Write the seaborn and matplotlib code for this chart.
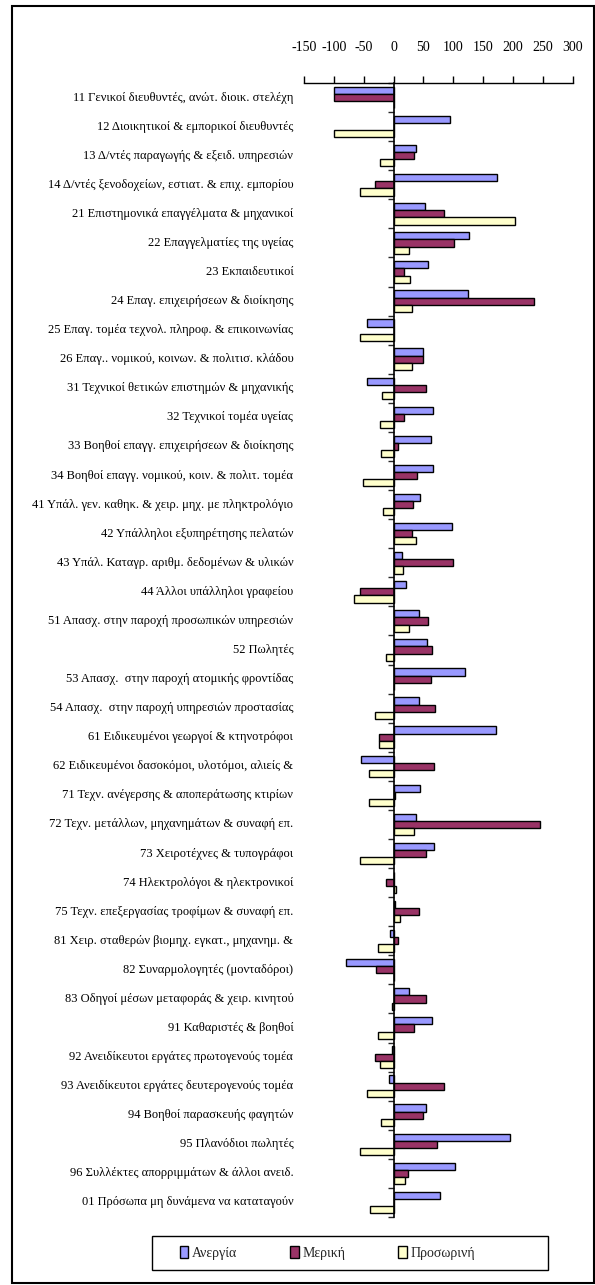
import numpy as np
import pandas as pd
import matplotlib
matplotlib.use("Agg")
import matplotlib.pyplot as plt
import matplotlib.transforms as mtransforms
from matplotlib.patches import Rectangle
import seaborn as sns

# Occupation groups (top to bottom)
categories = [
    "11 Γενικοί διευθυντές, ανώτ. διοικ. στελέχη",
    "12 Διοικητικοί & εμπορικοί διευθυντές",
    "13 Δ/ντές παραγωγής & εξειδ. υπηρεσιών",
    "14 Δ/ντές ξενοδοχείων, εστιατ. & επιχ. εμπορίου",
    "21 Επιστημονικά επαγγέλματα & μηχανικοί",
    "22 Επαγγελματίες της υγείας",
    "23 Εκπαιδευτικοί",
    "24 Επαγ. επιχειρήσεων & διοίκησης",
    "25 Επαγ. τομέα τεχνολ. πληροφ. & επικοινωνίας",
    "26 Επαγ.. νομικού, κοινων. & πολιτισ. κλάδου",
    "31 Τεχνικοί θετικών επιστημών & μηχανικής",
    "32 Τεχνικοί τομέα υγείας",
    "33 Βοηθοί επαγγ. επιχειρήσεων & διοίκησης",
    "34 Βοηθοί επαγγ. νομικού, κοιν. & πολιτ. τομέα",
    "41 Υπάλ. γεν. καθηκ. & χειρ. μηχ. με πληκτρολόγιο",
    "42 Υπάλληλοι εξυπηρέτησης πελατών",
    "43 Υπάλ. Καταγρ. αριθμ. δεδομένων & υλικών",
    "44 Άλλοι υπάλληλοι γραφείου",
    "51 Απασχ. στην παροχή προσωπικών υπηρεσιών",
    "52 Πωλητές",
    "53 Απασχ.  στην παροχή ατομικής φροντίδας",
    "54 Απασχ.  στην παροχή υπηρεσιών προστασίας",
    "61 Ειδικευμένοι γεωργοί & κτηνοτρόφοι",
    "62 Ειδικευμένοι δασοκόμοι, υλοτόμοι, αλιείς &",
    "71 Τεχν. ανέγερσης & αποπεράτωσης κτιρίων",
    "72 Τεχν. μετάλλων, μηχανημάτων & συναφή επ.",
    "73 Χειροτέχνες & τυπογράφοι",
    "74 Ηλεκτρολόγοι & ηλεκτρονικοί",
    "75 Τεχν. επεξεργασίας τροφίμων & συναφή επ.",
    "81 Χειρ. σταθερών βιομηχ. εγκατ., μηχανημ. &",
    "82 Συναρμολογητές (μονταδόροι)",
    "83 Οδηγοί μέσων μεταφοράς & χειρ. κινητού",
    "91 Καθαριστές & βοηθοί",
    "92 Ανειδίκευτοι εργάτες πρωτογενούς τομέα",
    "93 Ανειδίκευτοι εργάτες δευτερογενούς τομέα",
    "94 Βοηθοί παρασκευής φαγητών",
    "95 Πλανόδιοι πωλητές",
    "96 Συλλέκτες απορριμμάτων & άλλοι ανειδ.",
    "01 Πρόσωπα μη δυνάμενα να καταταγούν",
]

anergia = [-100, 94, 37, 173, 52, 126, 57, 124, -44, 50,
           -44, 66, 62, 66, 45, 98, 14, 21, 42, 56,
           119, 42, 171, -54, 45, 37, 68, 0, 2, -6,
           -80, 26, 64, -2, -8, 54, 195, 103, 78]
meriki = [-100, 0, 35, -31, 84, 101, 17, 236, 0, 49,
          54, 17, 8, 40, 32, 30, 99, -56, 57, 65,
          62, 69, -25, 68, 2, 246, 54, -13, 42, 7,
          -30, 54, 35, -31, 85, 49, 73, 24, 0]
prosorini = [0, -99, -22, -57, 204, 25, 28, 30, -57, 30,
             -19, -22, -21, -52, -17, 38, 16, -66, 25, -13,
             0, -31, -25, -42, -42, 35, -56, 4, 10, -26,
             0, -2, -26, -22, -44, -21, -57, 19, -40]

series = ["Ανεργία", "Μερική", "Προσωρινή"]
colors = ["#9999FF", "#993366", "#FFFFCC"]
xticks = [-150, -100, -50, 0, 50, 100, 150, 200, 250, 300]

df = pd.DataFrame({
    "cat": categories * 3,
    "value": anergia + meriki + prosorini,
    "series": [series[0]] * len(categories) + [series[1]] * len(categories)
              + [series[2]] * len(categories),
})

sns.set_style("white")
plt.rcParams["font.family"] = ["Liberation Serif", "DejaVu Serif"]

fig = plt.figure(figsize=(5.95, 12.85), dpi=100)
ax = fig.add_axes([0.511, 0.0529, 0.4515, 0.8825])

sns.barplot(data=df, y="cat", x="value", hue="series", hue_order=series,
            palette=colors, orient="h", width=0.74, saturation=1,
            edgecolor="black", linewidth=1, ax=ax)

ax.set_xlim(-150, 300)
ax.set_ylim(len(categories) - 0.5, -0.5)
ax.set_xlabel("")
ax.set_ylabel("")

# x axis on top
ax.xaxis.set_ticks_position("top")
ax.set_xticks(xticks)
ax.set_xticklabels([str(t) for t in xticks], fontsize=10)
ax.tick_params(axis="x", direction="out", length=5, width=1, pad=16,
               top=True, bottom=False, colors="black")
for s in ["right", "bottom"]:
    ax.spines[s].set_visible(False)
ax.spines["top"].set_color("black")
ax.spines["top"].set_linewidth(1)

# y axis through zero with marks between the groups
ax.spines["left"].set_position(("data", 0))
ax.spines["left"].set_color("black")
ax.spines["left"].set_linewidth(1.2)
ax.set_yticks([])
ax.set_yticks(np.arange(-0.5, len(categories), 1), minor=True)
ax.tick_params(axis="y", which="minor", direction="out", length=4, width=1,
               left=True, labelleft=False)

trans = mtransforms.blended_transform_factory(ax.transAxes, ax.transData)
for i, name in enumerate(categories):
    ax.text(-0.04, i, name, transform=trans, ha="right", va="center",
            fontsize=9, color="black")

# legend at the bottom, inside its own box
handles, labels = ax.get_legend_handles_labels()
if ax.legend_ is not None:
    ax.legend_.remove()
fig.legend(handles, labels, loc="center left", ncol=3,
           bbox_to_anchor=(0.302, 0.0249), frameon=False, fontsize=10,
           handlelength=0.6, handleheight=1.0, handletextpad=0.3,
           columnspacing=3.8, borderpad=0, borderaxespad=0)
fig.patches.append(Rectangle((0.2555, 0.0117), 0.666, 0.0265,
                             transform=fig.transFigure, fill=False,
                             edgecolor="black", linewidth=1))

# outer frame
fig.patches.append(Rectangle((0.0202, 0.0016), 0.978, 0.9938,
                             transform=fig.transFigure, fill=False,
                             edgecolor="black", linewidth=1.5))

fig.savefig("out.png", dpi=100)
